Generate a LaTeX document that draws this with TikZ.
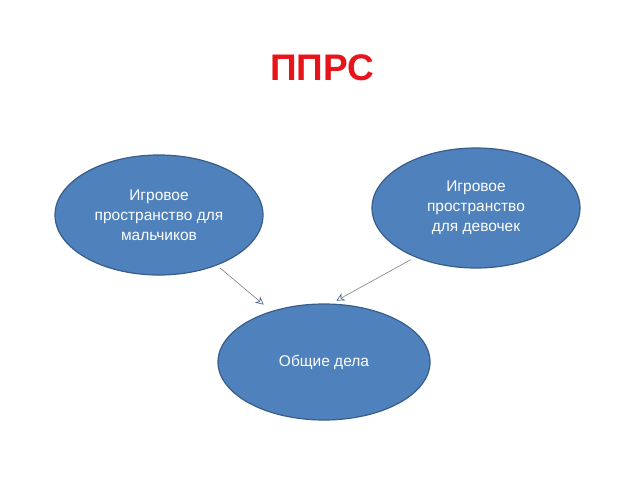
\documentclass[tikz,border=0pt]{standalone}
\usepackage{fontspec}
\setmainfont{Liberation Sans}
\usetikzlibrary{shapes.geometric,arrows.meta}
\definecolor{ovalfill}{HTML}{4F81BD}
\definecolor{ovaldraw}{HTML}{385D8A}
\definecolor{titlered}{HTML}{E8141B}
\begin{document}
\begin{tikzpicture}[x=1pt, y=-1pt]
\tikzstyle{oval}=[ellipse, draw=ovaldraw, line width=1.2pt, fill=ovalfill, text=white, align=center, inner sep=0pt, minimum width=208pt, minimum height=120pt, font=\fontsize{15.5}{20}\selectfont]
\tikzstyle{arr}=[draw=gray, line width=0.6pt, -{Stealth[open, length=8pt, width=8pt, color=ovaldraw]}]
\useasboundingbox (0,0) rectangle (640,480);
\node[font=\bfseries\fontsize{37}{40}\selectfont, text=titlered] (title) at (322,68) {ППРС};
\node[oval] (boys) at (159,215) {Игровое\\пространство для\\мальчиков};
\node[oval] (girls) at (476,208) {Игровое\\пространство\\для девочек};
\node[oval, minimum width=212pt, minimum height=116pt] (common) at (324,362) {Общие дела};

\draw[arr, shorten <=4pt, shorten >=10pt] (boys.-41) -- (common.136);
\draw[arr, shorten <=5pt, shorten >=6pt] (girls.219) -- (common.83);
\end{tikzpicture}
\end{document}
